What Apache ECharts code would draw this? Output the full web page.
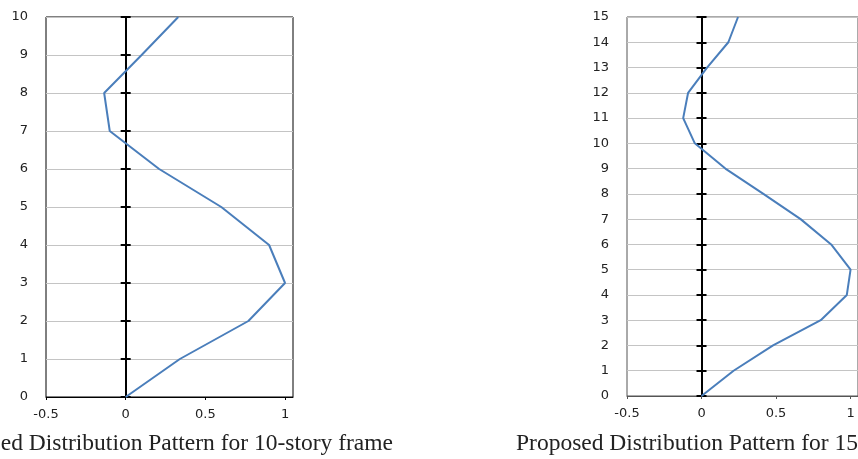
<!DOCTYPE html>
<html>
<head>
<meta charset="utf-8">
<script src="https://cdn.jsdelivr.net/npm/echarts@6/dist/echarts.min.js"></script>
<style>
html,body{margin:0;padding:0;background:#fff;}
#chart{width:858px;height:459px;}
</style>
</head>
<body>
<div id="chart"></div>
<script>
// ---- data ----
const floors10 = [0, 1, 2, 3, 4, 5, 6, 7, 8, 9, 10];
const pattern10 = [0, 0.34, 0.77, 1.0, 0.90, 0.60, 0.21, -0.10, -0.135, 0.10, 0.33];
const floors15 = [0, 1, 2, 3, 4, 5, 6, 7, 8, 9, 10, 11, 12, 13, 14, 15];
const pattern15 = [0, 0.215, 0.48, 0.80, 0.975, 1.0, 0.87, 0.665, 0.415, 0.16, -0.045, -0.123, -0.09, 0.037, 0.18, 0.245];
const xTicks = [-0.5, 0, 0.5, 1];
const caption10 = 'Proposed Distribution Pattern for 10-story frame';
const caption15 = 'Proposed Distribution Pattern for 15-story frame';

const labelFont = { fontFamily: 'DejaVu Sans', fontSize: 13, color: '#222' };
const lineColor = '#4a7ebb';

function makeAxes(gridIndex, yMax, borderColor) {
  const xAxis = {
    type: 'value', gridIndex: gridIndex, min: -0.5, max: 1.05, interval: 0.5,
    axisLine: { show: true, onZero: false, lineStyle: { color: borderColor, width: 1 } },
    axisTick: { show: true, length: 3, customValues: xTicks, lineStyle: { color: borderColor } },
    axisLabel: Object.assign({ margin: 11, customValues: xTicks, formatter: v => String(v) }, labelFont),
    splitLine: { show: false }
  };
  const yLabels = {
    type: 'value', gridIndex: gridIndex, min: 0, max: yMax, interval: 1, position: 'left',
    axisLine: { show: false, onZero: false },
    axisTick: { show: false },
    axisLabel: Object.assign({ margin: 18 }, labelFont),
    splitLine: { show: true, lineStyle: { color: '#c4c4c4', width: 1 } }
  };
  const yZeroOut = {
    type: 'value', gridIndex: gridIndex, min: 0, max: yMax, interval: 1, position: 'left',
    axisLine: { show: true, onZero: true, onZeroAxisIndex: gridIndex, lineStyle: { color: '#000', width: 2 } },
    axisTick: { show: true, inside: false, length: 5, lineStyle: { color: '#000', width: 2 } },
    axisLabel: { show: false },
    splitLine: { show: false }
  };
  const yZeroIn = {
    type: 'value', gridIndex: gridIndex, min: 0, max: yMax, interval: 1, position: 'left',
    axisLine: { show: false, onZero: true, onZeroAxisIndex: gridIndex },
    axisTick: { show: true, inside: true, length: 5, lineStyle: { color: '#000', width: 2 } },
    axisLabel: { show: false },
    splitLine: { show: false }
  };
  return { xAxis: xAxis, yAxes: [yLabels, yZeroOut, yZeroIn] };
}

const a0 = makeAxes(0, 10, '#000');
const a1 = makeAxes(1, 15, '#555');

const chart = echarts.init(document.getElementById('chart'), null, { renderer: 'canvas' });
chart.setOption({
  backgroundColor: '#fff',
  animation: false,
  grid: [
    { left: 46, top: 17, width: 247, height: 380, show: true, borderColor: '#000', borderWidth: 1, backgroundColor: 'transparent' },
    { left: 627, top: 17, width: 240, height: 379, show: true, borderColor: '#555', borderWidth: 1, backgroundColor: 'transparent' }
  ],
  xAxis: [a0.xAxis, a1.xAxis],
  yAxis: a0.yAxes.concat(a1.yAxes),
  series: [
    {
      type: 'line', xAxisIndex: 0, yAxisIndex: 0, showSymbol: false, z: 5,
      lineStyle: { color: lineColor, width: 2 },
      data: floors10.map((f, i) => [pattern10[i], f])
    },
    {
      type: 'line', xAxisIndex: 1, yAxisIndex: 3, showSymbol: false, z: 5,
      lineStyle: { color: lineColor, width: 2 },
      data: floors15.map((f, i) => [pattern15[i], f])
    }
  ],
  graphic: [
    { type: 'text', x: 393, y: 444, style: { text: caption10, font: '23.5px "Liberation Serif"', fill: '#222', align: 'right', verticalAlign: 'middle' } },
    { type: 'text', x: 516, y: 444, style: { text: caption15, font: '23.5px "Liberation Serif"', fill: '#222', align: 'left', verticalAlign: 'middle' } }
  ]
});
</script>
</body>
</html>
